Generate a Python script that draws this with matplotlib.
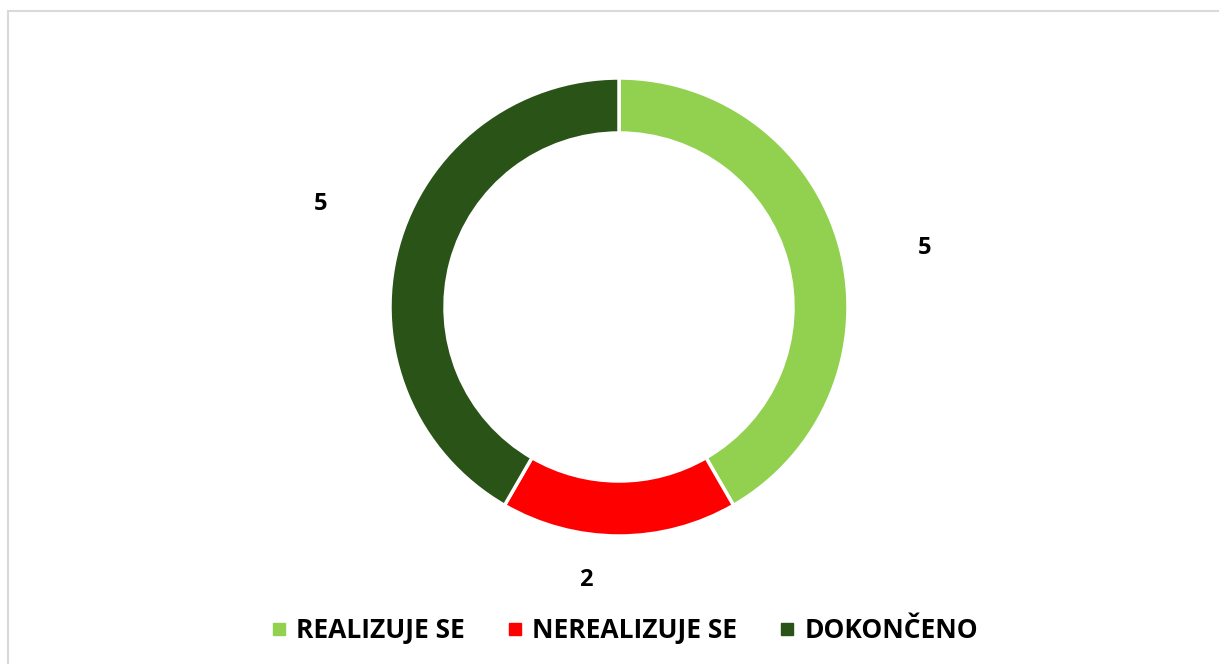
import numpy as np
import matplotlib.pyplot as plt
from matplotlib.patches import Rectangle
from matplotlib.lines import Line2D

categories = ['REALIZUJE SE', 'NEREALIZUJE SE', 'DOKONČENO']
values = [5, 2, 5]
colors = ['#92D050', '#FF0000', '#2A5318']

plt.rcParams['font.family'] = ['Open Sans', 'DejaVu Sans']

W, H = 1219, 664
fig = plt.figure(figsize=(W / 100, H / 100), dpi=100)
ax = fig.add_axes([0, 0, 1, 1])

wedges, _ = ax.pie(values, colors=colors, startangle=90, counterclock=False,
                   center=(619, H - 307), radius=229, frame=True,
                   wedgeprops=dict(width=55, edgecolor='white', linewidth=2.5))
ax.set_xlim(0, W)
ax.set_ylim(0, H)
ax.axis('off')

# data labels outside the ring
label_dist = [1.36, 1.20, 1.38]
label_shift = [-4, -7, -4]
for w, v, d, s in zip(wedges, values, label_dist, label_shift):
    ang = np.deg2rad((w.theta1 + w.theta2) / 2 + s)
    cx, cy = w.center
    ax.text(cx + d * w.r * np.cos(ang), cy + d * w.r * np.sin(ang), str(v),
            ha='center', va='center', fontsize=17, fontweight='bold')

# chart border (open on the right and bottom edges of the crop)
fig.patches.append(Rectangle((8, -20), 1300, H - 11 + 20, transform=None, fill=False,
                             edgecolor='#D9D9D9', linewidth=1.5))

handles = [Line2D([], [], marker='s', linestyle='none', markersize=9,
                  markerfacecolor=c, markeredgecolor=c) for c in colors]
fig.legend(handles, categories, loc='center', bbox_to_anchor=(625 / W, 1 - 631 / H),
           ncol=3, frameon=False, handlelength=0.5, handletextpad=0.4,
           columnspacing=1.65, prop=dict(size=19, weight='bold'))

fig.savefig('out.png', dpi=100)
